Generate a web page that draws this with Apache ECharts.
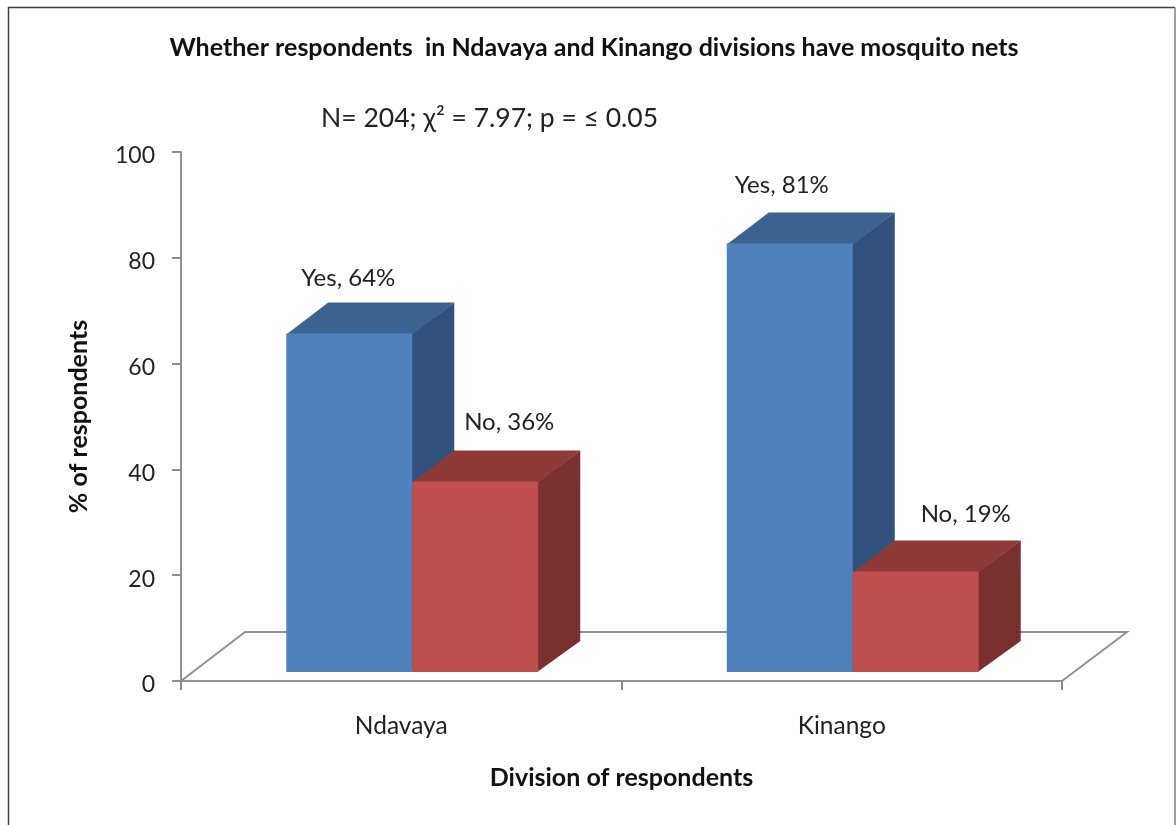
<!DOCTYPE html>
<html>
<head>
<meta charset="utf-8">
<style>html,body{margin:0;padding:0;background:#fff}#c{width:1176px;height:825px}</style>
<script src="https://cdn.jsdelivr.net/npm/echarts@6/dist/echarts.min.js"></script>
</head>
<body>
<div id="c"></div>
<script>
var categories = ['Ndavaya', 'Kinango'];
var yesValues = [64, 81];
var noValues = [36, 19];
var yTicks = [0, 20, 40, 60, 80, 100];
var titleText = 'Whether respondents  in Ndavaya and Kinango divisions have mosquito nets';
var noteText = 'N= 204; \u03C7\u00B2 = 7.97; p = \u2264 0.05';

var FONT = 'Lato, Carlito, "Open Sans", sans-serif';
var DX = 42, DY = 31, BASE = 9, SHIFT = 11, WIDTH = 0.286;
var LABEL_OFFSET = {
  Yes: [[-1, -24], [-8, -27]],
  No: [[34, -28], [50, -26]]
};

function barSeries(name, values, side, colors) {
  return {
    type: 'custom', name: name, coordinateSystem: 'cartesian2d', silent: true,
    data: values.map(function (v, i) { return [i, v]; }),
    encode: { x: 0, y: 1 },
    renderItem: function (params, api) {
      var i = api.value(0), v = api.value(1);
      var band = api.size([1, 0])[0], w = band * WIDTH;
      var top = api.coord([i, v]), bot = api.coord([i, 0]);
      var x0 = top[0] + SHIFT + (side < 0 ? -w : 0), x1 = x0 + w;
      var yT = top[1] - BASE, yB = bot[1] - BASE;
      var off = LABEL_OFFSET[name][i];
      return {
        type: 'group',
        children: [
          { type: 'polygon', shape: { points: [[x1 - 1, yT + 1], [x1 + DX, yT - DY], [x1 + DX, yB - DY], [x1 - 1, yB]] }, style: { fill: colors[2] } },
          { type: 'polygon', shape: { points: [[x0, yT + 1], [x0 + DX, yT - DY], [x1 + DX, yT - DY], [x1, yT + 1]] }, style: { fill: colors[1] } },
          { type: 'rect', shape: { x: x0, y: yT, width: w, height: yB - yT }, style: { fill: colors[0] } },
          { type: 'text', style: { text: name + ', ' + v + '%', x: (x0 + x1) / 2 + off[0], y: yT - DY + off[1], align: 'center', verticalAlign: 'middle', font: '24px ' + FONT, fill: '#222' } }
        ]
      };
    }
  };
}

var chart = echarts.init(document.getElementById('c'), null, { renderer: 'canvas', width: 1176, height: 825 });
chart.setOption({
  animation: false,
  backgroundColor: '#fff',
  title: [
    { text: titleText, left: 589, top: 30, textAlign: 'center', textStyle: { fontFamily: FONT, fontSize: 25, fontWeight: 'bold', color: '#111' } },
    { text: noteText, left: 316, top: 100, textStyle: { fontFamily: FONT, fontSize: 26.5, fontWeight: 'normal', color: '#222' } }
  ],
  grid: { left: 181, right: 114, top: 152, bottom: 144 },
  xAxis: {
    type: 'category', data: categories,
    name: 'Division of respondents', nameLocation: 'middle', nameGap: 84,
    nameTextStyle: { fontFamily: FONT, fontSize: 25, fontWeight: 'bold', color: '#111' },
    axisLine: { lineStyle: { color: '#919191', width: 2 } },
    axisTick: { show: true, alignWithLabel: false, length: 9, lineStyle: { color: '#8c8c8c', width: 2 } },
    axisLabel: { margin: 33, fontFamily: FONT, fontSize: 24.5, color: '#222' }
  },
  yAxis: {
    type: 'value', min: yTicks[0], max: yTicks[yTicks.length - 1], interval: yTicks[1] - yTicks[0],
    name: '% of respondents', nameLocation: 'middle', nameGap: 90, nameRotate: 90,
    nameTextStyle: { fontFamily: FONT, fontSize: 25, fontWeight: 'bold', color: '#111' },
    axisLine: { show: true, lineStyle: { color: '#919191', width: 2 } },
    axisTick: { show: true, length: 9, lineStyle: { color: '#8c8c8c', width: 2 } },
    axisLabel: { margin: 26, fontFamily: FONT, fontSize: 23, color: '#222', verticalAlign: 'top', lineHeight: 8, showMinLabel: true, showMaxLabel: true },
    splitLine: { show: false }
  },
  series: [
    {
      type: 'custom', name: 'floor', coordinateSystem: 'cartesian2d', silent: true, z: 1,
      data: [[0, 0]],
      renderItem: function (params, api) {
        var o = api.coord([0, 0]), band = api.size([1, 0])[0];
        var x0 = o[0] - band / 2, y0 = o[1], x1 = x0 + band * 2;
        return { type: 'polyline', shape: { points: [[x0, y0], [x0 + 64, y0 - 49], [x1 + 65, y0 - 49], [x1, y0]] }, style: { fill: 'none', stroke: '#919191', lineWidth: 2 } };
      }
    },
    barSeries('Yes', yesValues, -1, ['#4F81BD', '#3C6290', '#31527C']),
    barSeries('No', noValues, 1, ['#C0504D', '#8E3A38', '#7A302E'])
  ],
  graphic: [
    { type: 'polyline', silent: true, shape: { points: [[8.5, 825], [8.5, 7.5], [1175, 7.5]] }, style: { fill: 'none', stroke: '#404040', lineWidth: 1.5 } },
    { type: 'line', silent: true, shape: { x1: 1175, y1: 7.5, x2: 1175, y2: 825 }, style: { stroke: '#808080', lineWidth: 1.5 } }
  ]
});
</script>
</body>
</html>
